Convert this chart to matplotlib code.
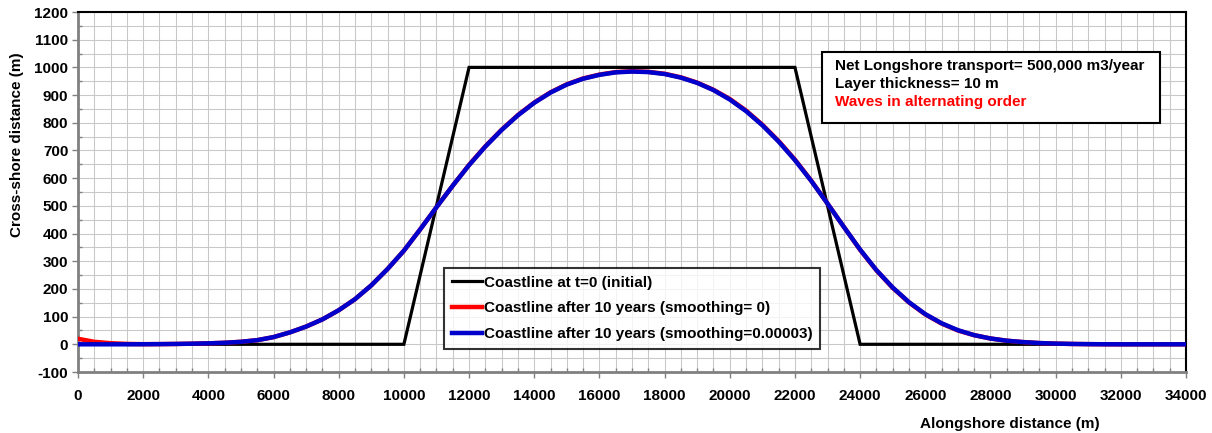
import matplotlib.pyplot as plt
from matplotlib.ticker import MultipleLocator

plt.rcParams['font.family'] = ['Liberation Sans', 'DejaVu Sans']
plt.rcParams['font.weight'] = 'bold'
plt.rcParams['axes.unicode_minus'] = False

# alongshore positions (m), every 500 m
x = list(range(0, 34001, 500))

# coastline after 10 years, smoothing=0.00003
blue = [0, 0, 0, 0, 0.3, 0.7, 1.3, 2.2, 3.5, 5.5, 9, 15, 26, 43, 64, 90,
        123, 163, 213, 272, 338, 415, 495, 573, 647, 714, 774, 827, 872, 909,
        938, 959, 973, 982, 985, 983, 976, 963, 944, 918, 884, 842,
        791, 732, 665, 590, 508, 424, 342, 268, 205, 152, 109, 76,
        51, 33, 21, 13, 8, 4.5, 2.5, 1.3, 0.6, 0.2, 0, 0, 0, 0, 0]

# coastline after 10 years, smoothing=0
red = [20, 9, 4, 1.5, 0.5, 0.7, 1.3, 2.2, 3.5, 5.5, 9, 15, 26, 43, 64, 90,
       123, 163, 213, 272, 338, 415, 495, 573, 648, 715, 775, 828, 873, 910,
       939, 960, 974, 983, 986, 984, 977, 964, 945, 919, 886, 844,
       793, 734, 667, 591, 508, 424, 341, 267, 204, 151, 108, 75,
       50, 33, 21, 13, 8, 4.5, 2.5, 1.3, 0.6, 0.2, 0, 0, 0, 0, 0]

# initial coastline
x0 = [0, 10000, 12000, 22000, 24000, 34000]
y0 = [0, 0, 1000, 1000, 0, 0]

labels = ['Coastline at t=0 (initial)',
          'Coastline after 10 years (smoothing= 0)',
          'Coastline after 10 years (smoothing=0.00003)']

fig = plt.figure(figsize=(12.12, 4.33), dpi=100, facecolor='white')
ax = fig.add_axes([78/1212, 1-372/433, 1108/1212, 360/433])

l1, = ax.plot(x0, y0, color='black', lw=2.3, zorder=3, solid_joinstyle='miter')
l2, = ax.plot(x, red, color='#ff0000', lw=3.2, zorder=4)
l3, = ax.plot(x, blue, color='#0000cc', lw=3.2, zorder=5)

ax.set_xlim(0, 34000)
ax.set_ylim(-100, 1200)
ax.xaxis.set_major_locator(MultipleLocator(2000))
ax.xaxis.set_minor_locator(MultipleLocator(500))
ax.yaxis.set_major_locator(MultipleLocator(100))
ax.yaxis.set_minor_locator(MultipleLocator(50))
ax.grid(True, which='both', color='#c8c8c8', lw=0.75, zorder=0)
ax.set_axisbelow(True)

ax.tick_params(which='major', direction='out', length=4, width=1, color='#808080',
               labelsize=11, pad=3)
ax.tick_params(which='minor', direction='in', length=3, width=1, color='#808080')
ax.tick_params(axis='x', which='major', pad=8)
for lab in ax.get_xticklabels() + ax.get_yticklabels():
    lab.set_fontweight('bold')

for s in ['left', 'bottom']:
    ax.spines[s].set_color('#808080')
    ax.spines[s].set_linewidth(2)
for s in ['top', 'right']:
    ax.spines[s].set_color('black')
    ax.spines[s].set_linewidth(1.5)

fig.text(17/1212, 1-145/433, 'Cross-shore distance (m)', rotation=90,
         ha='center', va='center', fontsize=11, fontweight='bold')
fig.text(1010/1212, 1-424/433, 'Alongshore distance (m)',
         ha='center', va='center', fontsize=11, fontweight='bold')

leg = ax.legend([l1, l2, l3], labels, loc='lower left',
                bbox_to_anchor=((444-78)/1108, (372-349)/360),
                frameon=True, fancybox=False, edgecolor='black',
                prop={'size': 11, 'weight': 'bold'}, handlelength=2.0,
                handletextpad=0.1, borderpad=0.5, labelspacing=0.78,
                borderaxespad=0)
leg.get_frame().set_linewidth(1.5)
leg.set_zorder(10)

# info box
box = plt.Rectangle(((822-78)/1108, (372-123)/360), (1160-822)/1108, (123-52)/360,
                    transform=ax.transAxes, facecolor='white', edgecolor='black',
                    lw=1.5, zorder=10)
ax.add_patch(box)
ax.text((835-78)/1108, (372-66)/360, 'Net Longshore transport= 500,000 m3/year',
        transform=ax.transAxes, va='center', fontsize=11, fontweight='bold', zorder=11)
ax.text((835-78)/1108, (372-84)/360, 'Layer thickness= 10 m',
        transform=ax.transAxes, va='center', fontsize=11, fontweight='bold', zorder=11)
ax.text((835-78)/1108, (372-102)/360, 'Waves in alternating order', color='#ff0000',
        transform=ax.transAxes, va='center', fontsize=11, fontweight='bold', zorder=11)

fig.savefig('out.png', dpi=100, facecolor='white')
